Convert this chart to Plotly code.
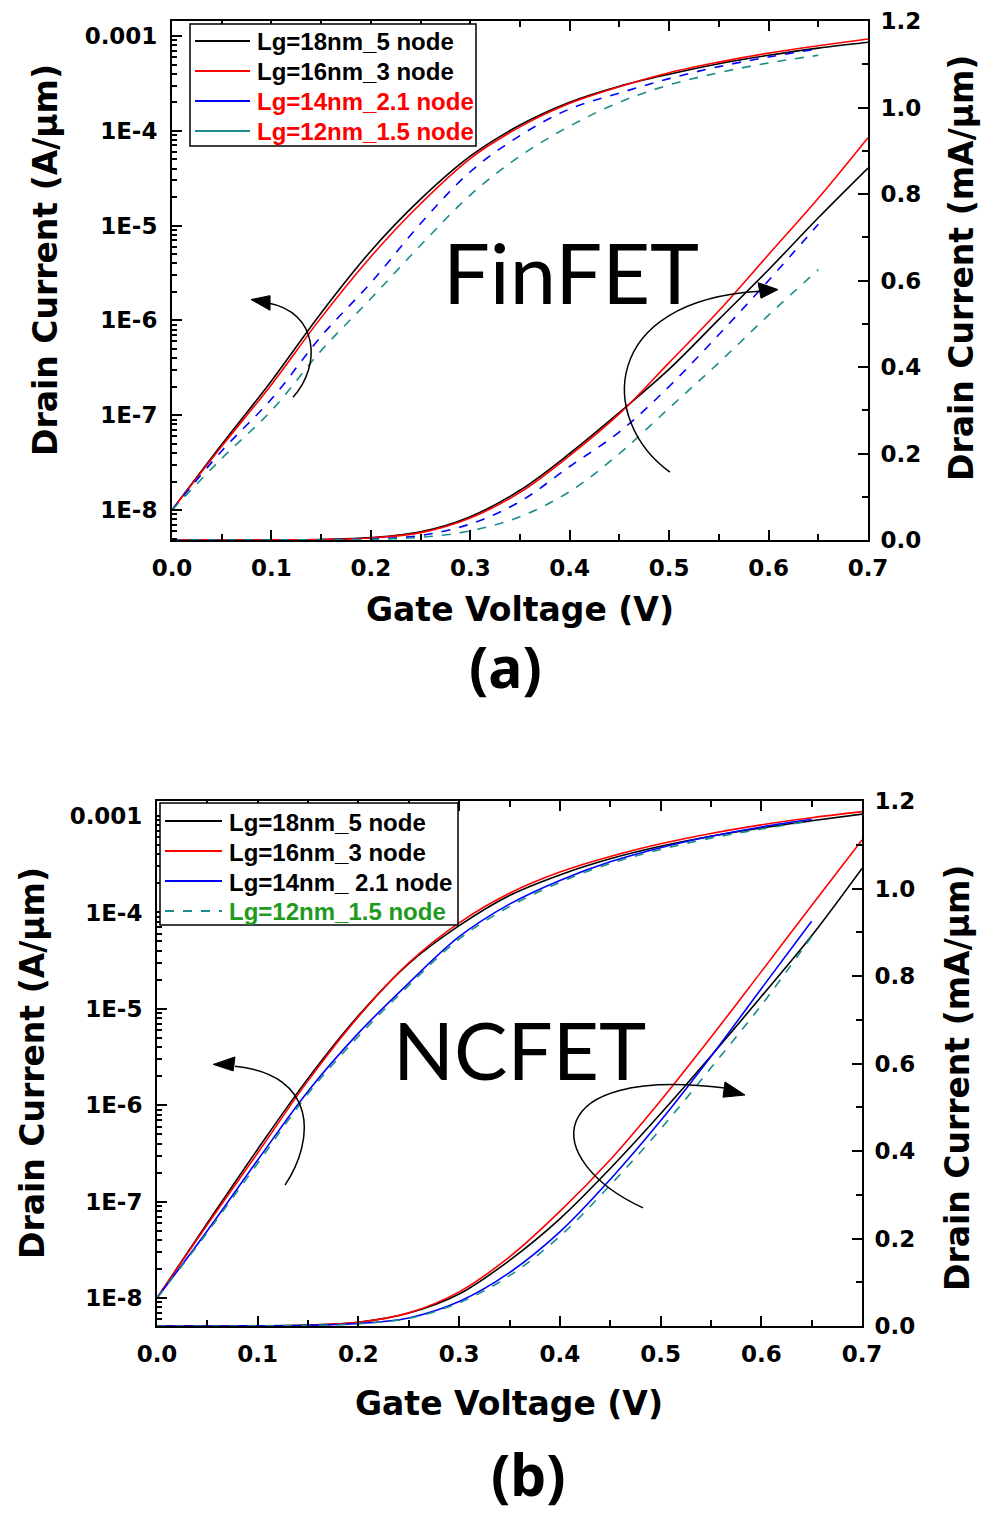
import plotly.graph_objects as go

# ---------------- data ----------------
vg = [0.00, 0.05, 0.10, 0.15, 0.20, 0.25, 0.30, 0.35, 0.40, 0.45, 0.50, 0.55, 0.60, 0.65, 0.70]
vg_short = vg[:-1]

# FinFET drain current (A/um)
fin_18 = [1.0e-8, 4.9e-8, 2.3e-7, 1.2e-6, 5.4e-6, 1.9e-5, 5.4e-5, 1.15e-4, 2.0e-4, 2.95e-4, 3.95e-4, 5.1e-4, 6.25e-4, 7.45e-4, 8.6e-4]
fin_16 = [1.0e-8, 4.7e-8, 2.1e-7, 1.07e-6, 4.7e-6, 1.7e-5, 5.1e-5, 1.1e-4, 1.95e-4, 2.92e-4, 4.1e-4, 5.3e-4, 6.6e-4, 7.9e-4, 9.3e-4]
fin_14 = [1.0e-8, 4.2e-8, 1.48e-7, 6.8e-7, 2.5e-6, 1.05e-5, 3.7e-5, 8.9e-5, 1.7e-4, 2.5e-4, 3.55e-4, 4.75e-4, 6.0e-4, 7.3e-4]
fin_12 = [1.0e-8, 3.5e-8, 1.12e-7, 4.8e-7, 1.7e-6, 6.2e-6, 2.1e-5, 5.4e-5, 1.12e-4, 2.0e-4, 3.05e-4, 4.1e-4, 5.2e-4, 6.25e-4]

# NCFET drain current (A/um)
nc_18 = [1.0e-8, 6.0e-8, 3.5e-7, 1.9e-6, 8.5e-6, 2.95e-5, 7.3e-5, 1.5e-4, 2.45e-4, 3.6e-4, 4.85e-4, 6.17e-4, 7.53e-4, 8.92e-4, 1.046e-3]
nc_16 = [1.0e-8, 5.8e-8, 3.2e-7, 1.8e-6, 8.3e-6, 3.0e-5, 7.8e-5, 1.58e-4, 2.62e-4, 3.8e-4, 5.15e-4, 6.6e-4, 8.1e-4, 9.61e-4, 1.111e-3]
nc_14 = [1.0e-8, 5.0e-8, 2.7e-7, 1.4e-6, 5.6e-6, 1.85e-5, 5.6e-5, 1.22e-4, 2.15e-4, 3.35e-4, 4.69e-4, 6.16e-4, 7.71e-4, 9.25e-4]
nc_12 = [1.0e-8, 4.8e-8, 2.5e-7, 1.32e-6, 5.2e-6, 1.75e-5, 5.3e-5, 1.15e-4, 2.05e-4, 3.22e-4, 4.5e-4, 5.9e-4, 7.33e-4, 8.9e-4]

names_a = ["Lg=18nm_5 node", "Lg=16nm_3 node", "Lg=14nm_2.1 node", "Lg=12nm_1.5 node"]
names_b = ["Lg=18nm_5 node", "Lg=16nm_3 node", "Lg=14nm_ 2.1 node", "Lg=12nm_1.5 node"]

log_tickvals = [1e-8, 1e-7, 1e-6, 1e-5, 1e-4, 1e-3]
log_ticktext = ["1E-8", "1E-7", "1E-6", "1E-5", "1E-4", "0.001"]
log_minor = [m * 10.0 ** e for e in range(-9, -2) for m in range(2, 10)]

BLACK, RED, BLUE, TEAL, GREEN = "#000000", "#ff0000", "#0000ff", "#1a8c8c", "#1f9a1f"

W, H = 984, 1517
fig = go.Figure()

def add_pair(xs, ys, color, dash, xa, ylog, ylin, name):
    fig.add_trace(go.Scatter(x=xs, y=ys, mode="lines", name=name,
                             line=dict(color=color, width=1.6, dash=dash, shape="spline"),
                             xaxis=xa, yaxis=ylog, showlegend=False))
    fig.add_trace(go.Scatter(x=xs, y=[v * 1000 for v in ys], mode="lines", name=name,
                             line=dict(color=color, width=1.6, dash=dash, shape="spline"),
                             xaxis=xa, yaxis=ylin, showlegend=False))

# ---- panel (a) FinFET ----
add_pair(vg, fin_18, BLACK, "solid", "x", "y", "y2", names_a[0])
add_pair(vg, fin_16, RED, "solid", "x", "y", "y2", names_a[1])
add_pair(vg_short, fin_14, BLUE, "dash", "x", "y", "y2", names_a[2])
add_pair(vg_short, fin_12, TEAL, "dash", "x", "y", "y2", names_a[3])

# ---- panel (b) NCFET ----
add_pair(vg, nc_18, BLACK, "solid", "x2", "y3", "y4", names_b[0])
add_pair(vg, nc_16, RED, "solid", "x2", "y3", "y4", names_b[1])
add_pair(vg_short, nc_14, BLUE, "solid", "x2", "y3", "y4", names_b[2])
add_pair(vg_short, nc_12, TEAL, "dash", "x2", "y3", "y4", names_b[3])

tickfont = dict(family="DejaVu Sans", size=23, color="black", weight="bold")

def xax(dom, anchor):
    return dict(domain=dom, anchor=anchor, range=[0, 0.7], tick0=0, dtick=0.1, tickformat=".1f",
                ticks="inside", ticklen=10, tickwidth=2, tickcolor="black", automargin=False,
                showline=True, linewidth=2, linecolor="black", mirror="ticks",
                showgrid=False, zeroline=False, tickfont=tickfont, ticklabelstandoff=6,
                minor=dict(dtick=0.05, ticks="inside", ticklen=6, tickwidth=2, tickcolor="black", showgrid=False))

def ylogax(dom, anchor, rng):
    return dict(domain=dom, anchor=anchor, type="log", range=rng, automargin=False,
                tickmode="array", tickvals=log_tickvals, ticktext=log_ticktext,
                ticks="inside", ticklen=10, tickwidth=2, tickcolor="black",
                showline=True, linewidth=2, linecolor="black",
                showgrid=False, zeroline=False, tickfont=tickfont, ticklabelstandoff=8,
                minor=dict(tickmode="array", tickvals=log_minor, ticks="inside", ticklen=5,
                           tickwidth=1.5, tickcolor="black", showgrid=False))

def ylinax(overlay, anchor):
    return dict(overlaying=overlay, anchor=anchor, side="right", range=[0, 1.2], tick0=0, dtick=0.2,
                tickformat=".1f", ticks="inside", ticklen=10, tickwidth=2, tickcolor="black",
                showline=True, linewidth=2, linecolor="black", automargin=False,
                showgrid=False, zeroline=False, tickfont=tickfont, ticklabelstandoff=6,
                minor=dict(dtick=0.1, ticks="inside", ticklen=6, tickwidth=2, tickcolor="black", showgrid=False))

fig.update_layout(
    width=W, height=H, margin=dict(l=0, r=0, t=0, b=0, autoexpand=False),
    paper_bgcolor="white", plot_bgcolor="white", showlegend=False,
    xaxis=xax([172 / W, 868 / W], "y"),
    yaxis=ylogax([1 - 540 / H, 1 - 21 / H], "x", [-8.316, -2.842]),
    yaxis2=ylinax("y", "x"),
    xaxis2=xax([157 / W, 862 / W], "y3"),
    yaxis3=ylogax([1 - 1326 / H, 1 - 801 / H], "x2", [-8.290, -2.844]),
    yaxis4=ylinax("y3", "x2"),
)

def px(x):
    return x / W

def py(y):
    return 1 - y / H

# ---- legends (boxed keys, as in the original) ----
legfont = "Liberation Sans"

def draw_legend(box, lx, tx, rows, entries):
    x0, y0, x1, y1 = box
    fig.add_shape(type="rect", xref="paper", yref="paper", x0=px(x0), y0=py(y0), x1=px(x1), y1=py(y1),
                  line=dict(color="black", width=1.5), fillcolor="white", layer="above")
    for (color, dash, text, tcolor), yy in zip(entries, rows):
        fig.add_shape(type="line", xref="paper", yref="paper", x0=px(lx[0]), x1=px(lx[1]),
                      y0=py(yy), y1=py(yy), line=dict(color=color, width=2, dash=dash), layer="above")
        fig.add_annotation(text=text, xref="paper", yref="paper", x=px(tx), y=py(yy + 1),
                           xanchor="left", yanchor="middle", showarrow=False,
                           font=dict(family=legfont, size=24, color=tcolor, weight="bold"))

draw_legend((190, 24, 476, 146), (195, 250), 255, [41, 71, 101, 131],
            [(BLACK, "solid", names_a[0], BLACK), (RED, "solid", names_a[1], BLACK),
             (BLUE, "solid", names_a[2], RED), (TEAL, "solid", names_a[3], RED)])
draw_legend((160, 803, 458, 925), (165, 222), 227, [821, 851, 881, 911],
            [(BLACK, "solid", names_b[0], BLACK), (RED, "solid", names_b[1], BLACK),
             (BLUE, "solid", names_b[2], BLACK), (TEAL, "dash", names_b[3], GREEN)])

titlefont = dict(family="DejaVu Sans", size=33, color="black", weight="bold")
annos = [
    dict(text="Gate Voltage (V)", x=px(520), y=py(609), textangle=0),
    dict(text="Drain Current (A/μm)", x=px(46), y=py(260), textangle=-90),
    dict(text="Drain Current (mA/μm)", x=px(961), y=py(268), textangle=-90),
    dict(text="Gate Voltage (V)", x=px(509), y=py(1403), textangle=0),
    dict(text="Drain Current (A/μm)", x=px(32), y=py(1063), textangle=-90),
    dict(text="Drain Current (mA/μm)", x=px(957), y=py(1078), textangle=-90),
]
for a in annos:
    fig.add_annotation(xref="paper", yref="paper", showarrow=False, xanchor="center", yanchor="middle",
                       font=titlefont, **a)

fig.add_annotation(text="FinFET", xref="x", yref="y2", x=0.401, y=0.619, showarrow=False,
                   xanchor="center", yanchor="middle", font=dict(family="Lato", size=83, color="black"))
fig.add_annotation(text="NCFET", xref="x2", yref="y4", x=0.360, y=0.633, showarrow=False,
                   xanchor="center", yanchor="middle", font=dict(family="Lato", size=80, color="black"))
labfont = dict(family="Noto Sans", size=57, color="black", weight="bold")
fig.add_annotation(text="(a)", xref="paper", yref="paper", x=px(505), y=py(666), showarrow=False,
                   xanchor="center", yanchor="middle", font=labfont)
fig.add_annotation(text="(b)", xref="paper", yref="paper", x=px(528), y=py(1474), showarrow=False,
                   xanchor="center", yanchor="middle", font=labfont)

# curved indicator arrows (data coordinates of the linear right axes)
def arrow(xr, yr, p0, c1, c2, p1, tip, b1, b2):
    fig.add_shape(type="path", xref=xr, yref=yr,
                  path=f"M {p0[0]},{p0[1]} C {c1[0]},{c1[1]} {c2[0]},{c2[1]} {p1[0]},{p1[1]}",
                  line=dict(color="black", width=1.5))
    fig.add_shape(type="path", xref=xr, yref=yr,
                  path=f"M {tip[0]},{tip[1]} L {b1[0]},{b1[1]} L {b2[0]},{b2[1]} Z",
                  line=dict(color="black", width=1), fillcolor="black")

arrow("x", "y2", (0.1217, 0.330), (0.1509, 0.404), (0.1469, 0.527), (0.0966, 0.548),
      (0.0795, 0.556), (0.0986, 0.565), (0.0986, 0.531))
arrow("x", "y2", (0.5008, 0.157), (0.4284, 0.277), (0.4305, 0.554), (0.5914, 0.575),
      (0.6095, 0.579), (0.5894, 0.595), (0.5924, 0.559))
arrow("x2", "y4", (0.1271, 0.322), (0.1569, 0.425), (0.1599, 0.574), (0.0775, 0.594),
      (0.0559, 0.598), (0.0774, 0.615), (0.0757, 0.583))
arrow("x2", "y4", (0.4826, 0.270), (0.3803, 0.379), (0.3803, 0.596), (0.5640, 0.544),
      (0.5838, 0.528), (0.5640, 0.558), (0.5620, 0.523))

fig.write_html("out.html", config={"displayModeBar": False},
               post_script="document.body.style.margin='0px';document.body.style.overflow='hidden';")
